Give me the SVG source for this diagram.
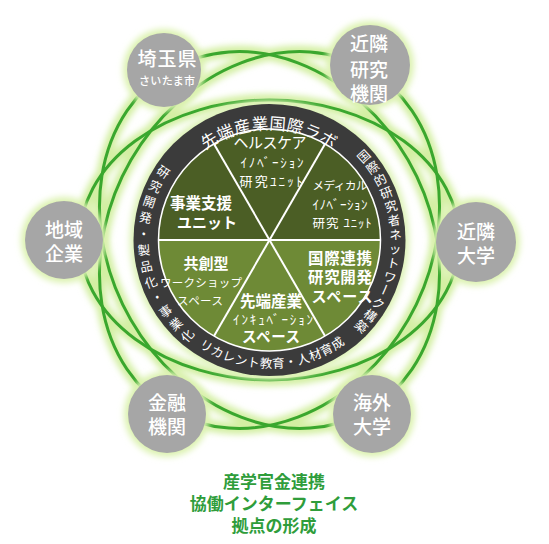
<svg xmlns="http://www.w3.org/2000/svg" width="549" height="544" viewBox="0 0 549 544">
<defs>
<filter id="blur" x="-30%" y="-30%" width="160%" height="160%"><feGaussianBlur stdDeviation="3"/></filter>
<style>
text{font-family:"Noto Sans CJK JP","Noto Sans",sans-serif;}
.glowline{fill:none;stroke:#d3efa3;stroke-width:12;}
.line{fill:none;stroke:#3aa72e;stroke-width:3;}
.node{fill:#a6a6a6;}
.halo{fill:#dcf2b0;}
.nt{fill:#fff;font-size:19px;font-weight:500;text-anchor:middle;dominant-baseline:central;}
.seg{fill:#fff;text-anchor:middle;dominant-baseline:central;}
.b{font-weight:bold;}
.ring{fill:#fff;font-size:12.5px;text-anchor:middle;dominant-baseline:central;}
.title{fill:#2f9d3b;font-size:17px;font-weight:bold;text-anchor:middle;dominant-baseline:central;}
</style>
<path id="topArc" d="M159.1,199.8 A117.5,117.5 0 0 1 379.9,199.8"/>
<path id="botArc" d="M149.2,283.8 A128,128 0 0 0 389.8,283.8"/>
</defs>
<rect width="549" height="544" fill="#fff"/>

<g id="connectors">
<g filter="url(#blur)">
<ellipse class="glowline" cx="269.5" cy="240" rx="190" ry="140"/>
<ellipse class="glowline" cx="269.5" cy="240" rx="197" ry="160" transform="rotate(60 269.5 240)"/>
<ellipse class="glowline" cx="269.5" cy="240" rx="197" ry="160" transform="rotate(-60 269.5 240)"/>
</g>
<ellipse class="line" cx="269.5" cy="240" rx="190" ry="140"/>
<ellipse class="line" cx="269.5" cy="240" rx="197" ry="160" transform="rotate(60 269.5 240)"/>
<ellipse class="line" cx="269.5" cy="240" rx="197" ry="160" transform="rotate(-60 269.5 240)"/>
</g>

<g id="wheel">
<circle cx="269.5" cy="240" r="140" fill="#def3b8" filter="url(#blur)"/>
<circle cx="269.5" cy="240" r="136" fill="#3b3b3b"/>
<path d="M158.5,240 A111,111 0 0 1 380.5,240 Z" fill="#4b5e25"/>
<path d="M158.5,240 A111,111 0 0 0 380.5,240 Z" fill="#6e8a36"/>
<g stroke="#fff" stroke-width="2">
<line x1="158.5" y1="240" x2="380.5" y2="240"/>
<line x1="214" y1="143.9" x2="325" y2="336.1"/>
<line x1="325" y1="143.9" x2="214" y2="336.1"/>
</g>
<circle cx="269.5" cy="240" r="111" fill="none" stroke="#fff" stroke-width="1.5"/>

<text class="ring" style="font-size:16.5px;letter-spacing:1.5px"><textPath href="#topArc" startOffset="50%">先端産業国際ラボ</textPath></text>
<text class="ring" style="dominant-baseline:auto;letter-spacing:0.5px"><textPath href="#botArc" startOffset="51%">リカレント教育・人材育成</textPath></text>

<g id="ring-right">
<text class="ring" transform="translate(363.1 155.7) rotate(-42)">国</text>
<text class="ring" transform="translate(372.1 166.9) rotate(-35.5)">際</text>
<text class="ring" transform="translate(379.8 179.1) rotate(-28.9)">的</text>
<text class="ring" transform="translate(386.0 192.0) rotate(-22.4)">研</text>
<text class="ring" transform="translate(390.7 205.6) rotate(-15.9)">究</text>
<text class="ring" transform="translate(393.8 219.6) rotate(-9.3)">者</text>
<text class="ring" transform="translate(395.4 233.9) rotate(-2.8)">ネ</text>
<text class="ring" transform="translate(395.2 248.3) rotate(3.8)">ッ</text>
<text class="ring" transform="translate(393.5 262.5) rotate(10.3)">ト</text>
<text class="ring" transform="translate(390.1 276.5) rotate(16.8)">ワ</text>
<text class="ring" transform="translate(385.2 290.0) rotate(113.4)">ー</text>
<text class="ring" transform="translate(378.7 302.8) rotate(29.9)">ク</text>
<text class="ring" transform="translate(370.8 314.9) rotate(36.5)">構</text>
<text class="ring" transform="translate(361.7 325.9) rotate(43)">築</text>
</g>
<g id="ring-left">
<text class="ring" transform="translate(163.8 171.4) rotate(33)">研</text>
<text class="ring" transform="translate(155.8 185.7) rotate(25.5)">究</text>
<text class="ring" transform="translate(149.7 200.9) rotate(18.1)">開</text>
<text class="ring" transform="translate(145.7 216.7) rotate(10.6)">発</text>
<text class="ring" transform="translate(143.7 233.0) rotate(3.2)">・</text>
<text class="ring" transform="translate(143.9 249.4) rotate(-4.3)">製</text>
<text class="ring" transform="translate(146.1 265.6) rotate(-11.7)">品</text>
<text class="ring" transform="translate(150.5 281.4) rotate(-19.2)">化</text>
<text class="ring" transform="translate(156.9 296.5) rotate(-26.6)">・</text>
<text class="ring" transform="translate(165.1 310.6) rotate(-34.1)">事</text>
<text class="ring" transform="translate(175.2 323.6) rotate(-41.5)">業</text>
<text class="ring" transform="translate(186.8 335.1) rotate(-49)">化</text>
</g>

<g id="seg-healthcare">
<text class="seg" x="270" y="141" font-size="15" textLength="73">ヘルスケア</text>
<text class="seg" x="272" y="161" font-size="13" textLength="63">ｲﾉﾍﾞｰｼｮﾝ</text>
<text class="seg" x="271" y="180" font-size="13" textLength="63">研究ﾕﾆｯﾄ</text>
</g>
<g id="seg-medical">
<text class="seg" x="340" y="185" font-size="11.5" textLength="55">メディカル</text>
<text class="seg" x="340" y="203" font-size="13" textLength="55">ｲﾉﾍﾞｰｼｮﾝ</text>
<text class="seg" x="342" y="222" font-size="12.5" textLength="59">研究 ﾕﾆｯﾄ</text>
</g>
<g id="seg-business">
<text class="seg b" x="201" y="202" font-size="15.5" textLength="62">事業支援</text>
<text class="seg b" x="207" y="221" font-size="15" textLength="60">ユニット</text>
</g>
<g id="seg-cocreation">
<text class="seg b" x="206" y="262" font-size="15" textLength="45">共創型</text>
<text class="seg" x="201" y="282" font-size="11.5" textLength="82">ワークショップ</text>
<text class="seg" x="200" y="300" font-size="11.5" textLength="46">スペース</text>
</g>
<g id="seg-incubation">
<text class="seg b" x="271" y="300" font-size="15.5" textLength="62">先端産業</text>
<text class="seg" x="273" y="318" font-size="13" textLength="80">ｲﾝｷｭﾍﾞｰｼｮﾝ</text>
<text class="seg b" x="271" y="335" font-size="14.5" textLength="58">スペース</text>
</g>
<g id="seg-international">
<text class="seg b" x="340" y="257" font-size="15.5" textLength="64">国際連携</text>
<text class="seg b" x="340" y="276" font-size="15.5" textLength="64">研究開発</text>
<text class="seg b" x="342" y="295" font-size="15" textLength="61">スペース</text>
</g>
</g>

<g id="node-saitama">
<circle class="halo" cx="164" cy="70" r="41" filter="url(#blur)"/>
<circle class="node" cx="164" cy="70" r="37"/>
<text class="nt" x="167" y="57.5" textLength="59">埼玉県</text>
<text class="nt" x="167" y="80" style="font-size:11px" textLength="56">さいたま市</text>
</g>
<g id="node-research">
<circle class="halo" cx="370" cy="65" r="44" filter="url(#blur)"/>
<circle class="node" cx="370" cy="65" r="40"/>
<text class="nt" x="369" y="42.5">近隣</text>
<text class="nt" x="369" y="68">研究</text>
<text class="nt" x="369" y="92">機関</text>
</g>
<g id="node-local">
<circle class="halo" cx="64" cy="240" r="43" filter="url(#blur)"/>
<circle class="node" cx="64" cy="240" r="39"/>
<text class="nt" x="64" y="228">地域</text>
<text class="nt" x="64" y="252">企業</text>
</g>
<g id="node-univ">
<circle class="halo" cx="476" cy="242" r="44" filter="url(#blur)"/>
<circle class="node" cx="476" cy="242" r="40"/>
<text class="nt" x="476" y="230">近隣</text>
<text class="nt" x="476" y="254">大学</text>
</g>
<g id="node-finance">
<circle class="halo" cx="167" cy="414" r="43" filter="url(#blur)"/>
<circle class="node" cx="167" cy="414" r="39"/>
<text class="nt" x="167" y="401">金融</text>
<text class="nt" x="167" y="425">機関</text>
</g>
<g id="node-overseas">
<circle class="halo" cx="372" cy="414" r="43" filter="url(#blur)"/>
<circle class="node" cx="372" cy="414" r="39"/>
<text class="nt" x="372" y="401">海外</text>
<text class="nt" x="372" y="425">大学</text>
</g>

<g id="title">
<text class="title" x="274" y="480">産学官金連携</text>
<text class="title" x="274" y="502.5">協働インターフェイス</text>
<text class="title" x="274" y="524.5">拠点の形成</text>
</g>
</svg>
